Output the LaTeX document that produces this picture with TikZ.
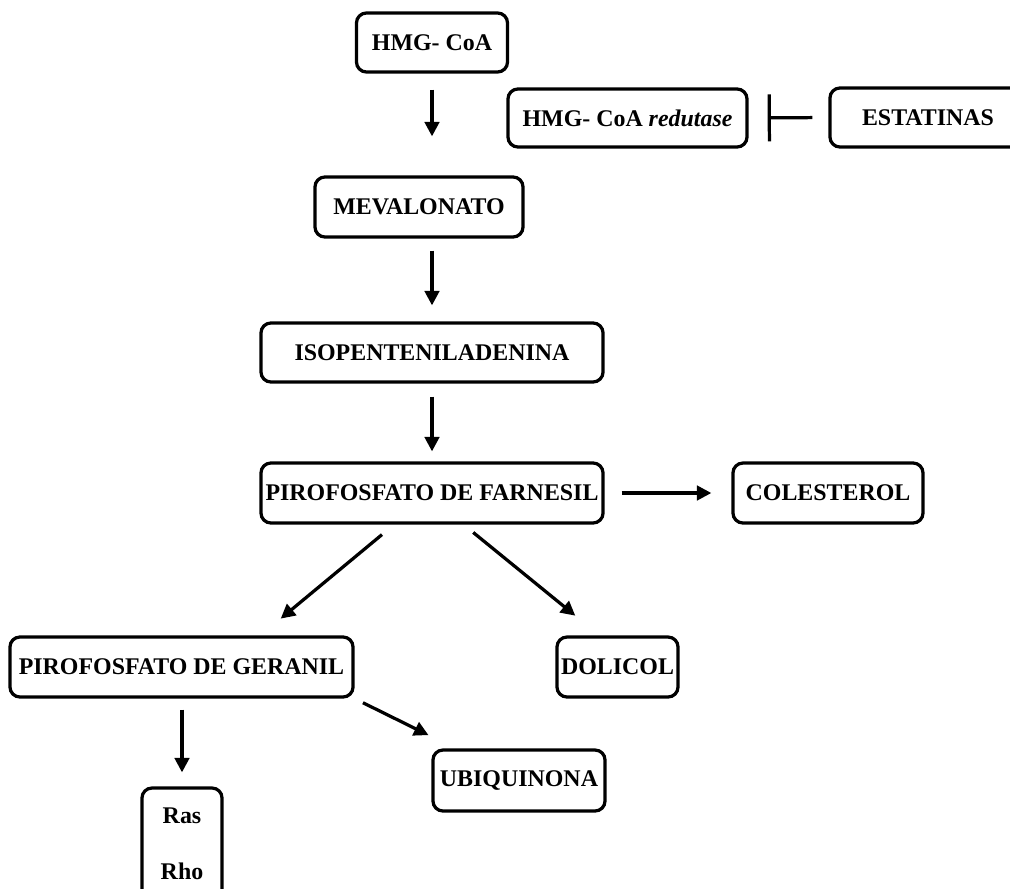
\documentclass[tikz,border=0pt]{standalone}
\usepackage{fontspec}
\setmainfont{Liberation Serif}
\usetikzlibrary{arrows.meta}
\tikzset{
	box/.style={draw, line width=2.3pt, rounded corners=0.25cm, inner sep=0pt, minimum height=1.5cm, font=\bfseries\fontsize{17}{20.4}\selectfont},
	arr/.style={line width=2.3pt, -{Triangle[length=0.36cm, width=0.36cm]}},
	blocks/.style={line width=2.3pt, -{Bar[width=1.175cm]}}
}

\begin{document}
\begin{tikzpicture}[x=0.025cm, y=-0.025cm]
			%%%%% START %%%%%
			
			\clip (0, 0) rectangle (1010, 888);
			
			\node[box, minimum width=3.775cm, minimum height=1.475cm] (hmg) at (432, 42.5) {HMG- CoA};
			\node[box, minimum width=5.975cm, minimum height=1.45cm] (red) at (627.5, 118) {HMG- CoA \textit{redutase}};
			\node[box, minimum width=4.9cm, minimum height=1.475cm] (est) at (928, 117.5) {ESTATINAS};
			
			\node[box, minimum width=5.2cm] (meval) at (419, 207) {MEVALONATO};
			\node[box, minimum width=8.55cm, minimum height=1.475cm] (isop) at (432, 352.5) {ISOPENTENILADENINA};
			\node[box, minimum width=8.55cm] (farn) at (432, 493) {PIROFOSFATO DE FARNESIL};
			\node[box, minimum width=4.75cm] (col) at (828, 493) {COLESTEROL};
			
			\node[box, minimum width=8.575cm] (geran) at (181.5, 667) {PIROFOSFATO DE GERANIL};
			\node[box, minimum width=3.025cm] (dol) at (617.5, 667) {DOLICOL};
			\node[box, minimum width=4.3cm, minimum height=1.525cm] (ubiq) at (519, 780.5) {UBIQUINONA};
			\node[box, align=center, minimum width=2cm, minimum height=2.8cm] (rasrho) at (182, 844) {Ras\\[19.4pt]Rho};
			
			\draw[arr, shorten <=0.4cm, shorten >=0.975cm] (hmg.south) -- (hmg.south |- meval.north);
			\draw[blocks, shorten <=0.4cm, shorten >=0.475cm] (est.west) -- (red.east);
			\draw[arr, shorten <=0.3cm, shorten >=0.4cm] (meval.south -| isop.north) -- (isop.north);
			\draw[arr, shorten <=0.325cm, shorten >=0.25cm] (isop.south) -- (farn.north);
			\draw[arr, shorten <=0.425cm, shorten >=0.5cm] (farn.east) -- (col.west);
			
			\draw[arr, shorten <=0.39cm, shorten >=0.655cm] ([xshift=-0.95cm]farn.south) -- ([xshift=1.975cm]geran.north);
			\draw[arr, shorten <=0.31cm, shorten >=0.78cm] ([xshift=0.79cm]farn.south) -- ([xshift=-0.45cm]dol.north);
			
			\draw[arr, shorten <=0.275cm, shorten >=0.35cm] (geran.south -| rasrho.north) -- (rasrho.north);
			\draw[arr, shorten <=0.23cm, shorten >=0.75cm] (geran.south east) -- ([xshift=0.6cm]ubiq.north west);
			
			%%%%% END %%%%%
\end{tikzpicture}
\end{document}
